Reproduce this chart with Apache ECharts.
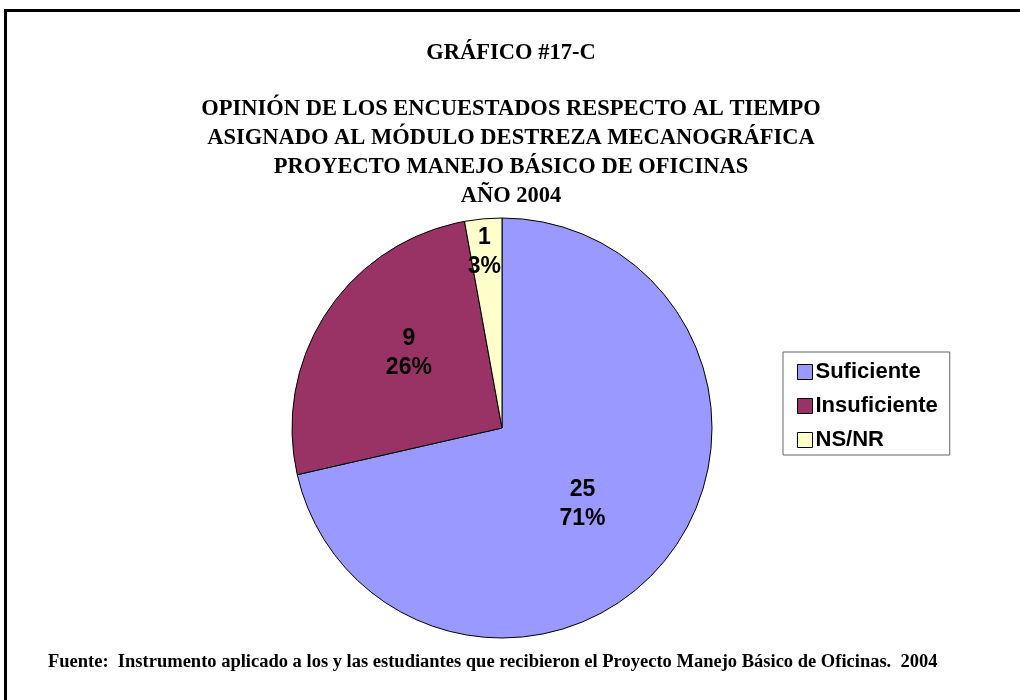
<!DOCTYPE html>
<html>
<head>
<meta charset="utf-8">
<script src="https://cdn.jsdelivr.net/npm/echarts@6/dist/echarts.min.js"></script>
<style>
  html, body { margin: 0; padding: 0; background: #fff; }
  #chart { width: 1020px; height: 700px; }
</style>
</head>
<body>
<div id="chart"></div>
<script>
// Survey responses on the time assigned to the typing module
const categories = ['Suficiente', 'Insuficiente', 'NS/NR'];
const counts = [25, 9, 1];
const colors = ['#9999FF', '#993366', '#FFFFCC'];
// Per-slice label nudges (dx, dy) in pixels
const labelNudges = [[-4, 9], [-3, -15], [-8, -68]];

const heading = 'GRÁFICO #17-C';
const titleLines = [
  'OPINIÓN DE LOS ENCUESTADOS RESPECTO AL TIEMPO',
  'ASIGNADO AL MÓDULO DESTREZA MECANOGRÁFICA',
  'PROYECTO MANEJO BÁSICO DE OFICINAS',
  'AÑO 2004'
];
const footnote = 'Fuente:  Instrumento aplicado a los y las estudiantes que recibieron el Proyecto Manejo Básico de Oficinas.  2004';

const total = counts.reduce((a, b) => a + b, 0);
const serif = '"Liberation Serif", "Times New Roman", serif';
const sans = '"Liberation Sans", Arial, sans-serif';

const chart = echarts.init(document.getElementById('chart'), null, { renderer: 'canvas' });

chart.setOption({
  animation: false,
  backgroundColor: '#ffffff',
  legend: {
    orient: 'vertical',
    left: 783,
    top: 352,
    padding: [9, 12, 4, 14],
    itemGap: 12,
    itemWidth: 15,
    itemHeight: 15,
    icon: 'rect',
    itemStyle: { borderColor: '#000', borderWidth: 1 },
    borderColor: '#666',
    borderWidth: 1,
    backgroundColor: '#fff',
    textStyle: { fontFamily: sans, fontWeight: 'bold', fontSize: 22, color: '#000', padding: [0, 0, 0, -2] },
    data: categories
  },
  graphic: [
    {
      type: 'rect',
      shape: { x: 5.5, y: 10.5, width: 1030, height: 720 },
      style: { fill: 'none', stroke: '#000', lineWidth: 3 },
      silent: true
    },
    {
      type: 'text',
      x: 511,
      y: 53,
      style: {
        text: heading, fontFamily: serif, fontWeight: 'bold', fontSize: 22.5,
        fill: '#000', align: 'center', verticalAlign: 'middle'
      }
    },
    {
      type: 'text',
      x: 511,
      y: 95,
      style: {
        text: titleLines.join('\n'), fontFamily: serif, fontWeight: 'bold', fontSize: 22.5,
        lineHeight: 29, fill: '#000', align: 'center', verticalAlign: 'top'
      }
    },
    {
      type: 'text',
      x: 48,
      y: 662,
      style: {
        text: footnote, fontFamily: serif, fontWeight: 'bold', fontSize: 18.5,
        fill: '#000', align: 'left', verticalAlign: 'middle'
      }
    }
  ],
  series: [
    {
      type: 'pie',
      center: [502, 428],
      radius: 210,
      startAngle: 90,
      clockwise: true,
      avoidLabelOverlap: false,
      itemStyle: { borderColor: '#000', borderWidth: 1 },
      label: {
        position: 'inside',
        fontFamily: sans,
        fontWeight: 'bold',
        fontSize: 23,
        lineHeight: 29,
        color: '#000',
        formatter: p => p.value + '\n' + Math.round(p.value / total * 100) + '%'
      },
      labelLine: { show: false },
      labelLayout: p => ({ dx: labelNudges[p.dataIndex][0], dy: labelNudges[p.dataIndex][1] }),
      emphasis: { disabled: true },
      data: categories.map((name, i) => ({
        name: name,
        value: counts[i],
        itemStyle: { color: colors[i] }
      }))
    }
  ]
});
</script>
</body>
</html>
